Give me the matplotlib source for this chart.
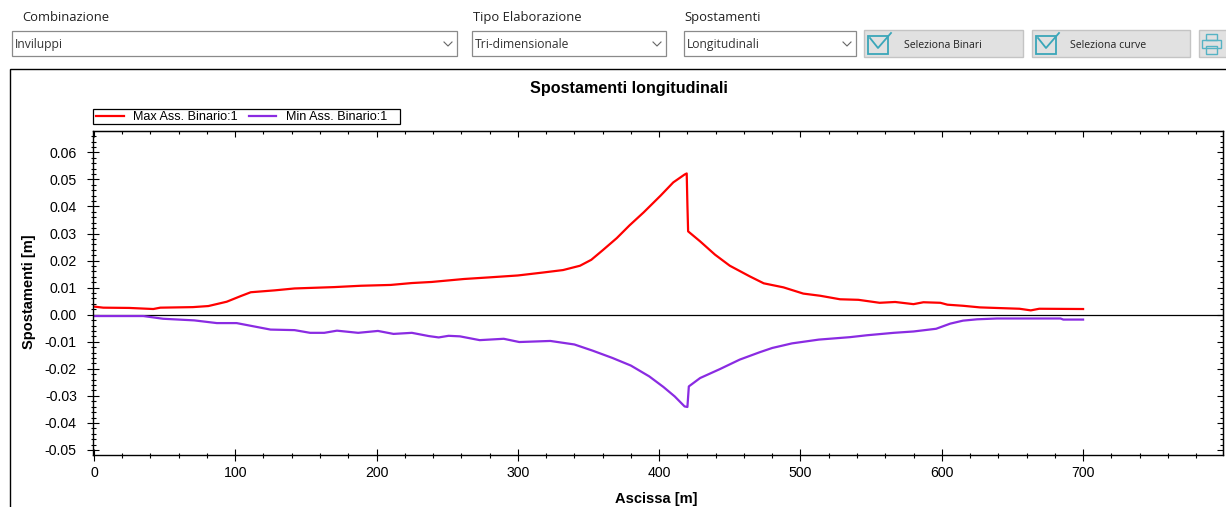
import matplotlib
matplotlib.use("Agg")
import matplotlib.pyplot as plt
from matplotlib.patches import Rectangle
import numpy as np

plt.rcParams["font.family"] = ["Liberation Sans", "DejaVu Sans"]

# data
max_x = [0, 6.6, 25, 42, 47, 70, 81, 94, 104, 111, 128, 142, 170, 189, 210, 225, 239, 262, 280, 300,
         318, 332, 344, 352, 360, 370, 379, 389, 401, 410, 418, 419.5, 420, 420.5, 429, 439.5, 450,
         464, 474, 488, 502, 514, 528, 541, 556, 567, 580, 587, 599, 604, 615, 627, 638, 655, 663,
         669, 700]
max_y = [0.003, 0.0026, 0.0025, 0.0021, 0.0026, 0.0028, 0.0032, 0.0048, 0.0069, 0.0083, 0.009, 0.0097,
         0.0102, 0.0107, 0.011, 0.0117, 0.0121, 0.0132, 0.0138, 0.0145, 0.0156, 0.0165, 0.0181, 0.0203,
         0.0238, 0.0283, 0.033, 0.0378, 0.044, 0.0489, 0.0518, 0.0522, 0.0405, 0.0308, 0.0271, 0.0222,
         0.0181, 0.0142, 0.0116, 0.0101, 0.0078, 0.007, 0.0057, 0.0055, 0.0044, 0.0047, 0.0039, 0.0046,
         0.0044, 0.0037, 0.0033, 0.0027, 0.0025, 0.0022, 0.0016, 0.0022, 0.0021]
min_x = [0, 35, 49, 71, 87, 101, 125, 142, 153, 163, 172, 187, 201, 212, 225, 237, 244, 251, 259, 273,
         290, 301, 323, 340, 353, 367, 380, 393, 403, 411, 418, 420, 421, 429, 443, 457, 471, 480,
         494, 513, 535, 547, 566, 580, 596, 606, 615, 625, 639, 684, 686, 700]
min_y = [-0.0005, -0.0005, -0.0015, -0.0021, -0.0031, -0.0031, -0.0055, -0.0057, -0.0067, -0.0067,
         -0.0059, -0.0067, -0.006, -0.0071, -0.0067, -0.0079, -0.0084, -0.0078, -0.008, -0.0094,
         -0.0089, -0.0101, -0.0097, -0.011, -0.0133, -0.016, -0.0188, -0.0228, -0.0267, -0.0302,
         -0.0339, -0.0341, -0.0265, -0.0234, -0.0201, -0.0166, -0.0139, -0.0123, -0.0106, -0.0092,
         -0.0083, -0.0076, -0.0067, -0.0062, -0.0052, -0.0033, -0.0022, -0.0017, -0.0014, -0.0014,
         -0.0018, -0.0018]
x_ticks = [0, 100, 200, 300, 400, 500, 600, 700]
y_ticks = [-0.05, -0.04, -0.03, -0.02, -0.01, 0.0, 0.01, 0.02, 0.03, 0.04, 0.05, 0.06]
x_minor = np.arange(0, 800, 20)
y_minor = np.arange(-0.05, 0.068, 0.002)

W, H = 1226, 507
fig = plt.figure(figsize=(W / 100, H / 100), dpi=100, facecolor="white")

# window controls, in pixels
ui = fig.add_axes([0, 0, 1, 1])
ui.set_xlim(0, W)
ui.set_ylim(H, 0)
ui.axis("off")
UI_FONT = ["Open Sans", "DejaVu Sans"]


def combo(x0, x1, label, label_x, value):
    ui.add_patch(Rectangle((x0, 31), x1 - x0, 25, fc="white", ec="#8a8a8a", lw=0.9))
    ui.text(x0 + 3, 48, value, family=UI_FONT, fontsize=8.7, color="#333333", va="baseline")
    ui.text(label_x, 21, label, family=UI_FONT, fontsize=9.4, color="#222222", va="baseline")
    ui.plot([x1 - 13, x1 - 9, x1 - 5], [42, 46, 42], color="#666666", lw=0.8)


def check_button(x0, x1, label, label_x):
    ui.add_patch(Rectangle((x0, 30), x1 - x0, 27, fc="#e1e1e1", ec="#c4c4c4", lw=1))
    ui.add_patch(Rectangle((x0 + 4, 36), 20, 18, fc="none", ec="#3aa6b9", lw=1.3))
    ui.plot([x0 + 6, x0 + 14, x0 + 27], [38, 48, 33], color="#3aa6b9", lw=1.3)
    ui.text(label_x, 48, label, family=UI_FONT, fontsize=7.6, color="#222222", va="baseline")


combo(12, 457, "Combinazione", 22, "Inviluppi")
combo(472, 666, "Tipo Elaborazione", 473, "Tri-dimensionale")
combo(684, 856, "Spostamenti", 684, "Longitudinali")
check_button(864, 1023, "Seleziona Binari", 904)
check_button(1032, 1190, "Seleziona curve", 1070)

# print button
ui.add_patch(Rectangle((1199, 30), 30, 27, fc="#e1e1e1", ec="#c4c4c4", lw=1))
ui.add_patch(Rectangle((1206, 34), 11, 6, fc="none", ec="#55b3c4", lw=1))
ui.add_patch(Rectangle((1202, 40), 19, 8, fc="none", ec="#55b3c4", lw=1))
ui.add_patch(Rectangle((1206, 46), 11, 8, fc="none", ec="#55b3c4", lw=1))

# frame around the chart
ui.plot([10, 10, W], [H, 68.5, 68.5], color="black", lw=1, solid_joinstyle="miter")

# legend box
ui.add_patch(Rectangle((92.5, 108.5), 307.5, 15.5, fc="white", ec="black", lw=0.9))

# chart
left, right, top, bottom = 92.5, 1222.7, 130.7, 455.3
ax = fig.add_axes([left / W, 1 - bottom / H, (right - left) / W, (bottom - top) / H])
ax.patch.set_alpha(0)
ax.plot(max_x, max_y, color="#ff0000", lw=1.6, label="Max Ass. Binario:1")
ax.plot(min_x, min_y, color="#8a2be2", lw=1.6, label="Min Ass. Binario:1")
ax.axhline(0, color="black", lw=0.9, zorder=1)

ax.set_xlim(-1, 798.8)
ax.set_ylim(-0.05196, 0.068)
ax.set_xticks(x_ticks)
ax.set_yticks(y_ticks)
ax.set_yticklabels(["%.2f" % v for v in y_ticks])
ax.set_xticks(x_minor, minor=True)
ax.set_yticks(y_minor, minor=True)
ax.tick_params(which="major", direction="inout", length=8, width=0.8, labelsize=10.2, colors="black")
ax.tick_params(which="minor", direction="inout", length=3.6, width=0.8)
ax.tick_params(axis="x", which="major", pad=3.7)
ax.tick_params(axis="y", which="major", pad=7.3)

for spine in ax.spines.values():
    spine.set_linewidth(1)

top_axis = ax.secondary_xaxis("top")
top_axis.set_xticks(x_ticks, labels=[])
top_axis.set_xticks(x_minor, minor=True)
top_axis.tick_params(which="major", direction="in", length=4, width=0.8)
top_axis.tick_params(which="minor", direction="in", length=2, width=0.8)
right_axis = ax.secondary_yaxis("right")
right_axis.set_yticks(y_ticks, labels=[])
right_axis.set_yticks(y_minor, minor=True)
right_axis.tick_params(which="major", direction="in", length=4, width=0.8)
right_axis.tick_params(which="minor", direction="in", length=2, width=0.8)

ui.text(628.5, 88.5, "Spostamenti longitudinali", fontsize=11.6, fontweight="bold", ha="center", va="center")
ui.text(656, 498.5, "Ascissa [m]", fontsize=10.5, fontweight="bold", ha="center", va="center")
ui.text(29, 292, "Spostamenti [m]", fontsize=10.5, fontweight="bold", ha="center", va="center", rotation=90)

legend = ax.legend(loc="center left", bbox_to_anchor=((96 - left) / (right - left), (bottom - 117.3) / (bottom - top)),
                   ncol=2, fontsize=9.1, frameon=False, borderpad=0, borderaxespad=0,
                   handlelength=2.2, handletextpad=0.75, columnspacing=0.85)

fig.savefig("out.png", dpi=100)
